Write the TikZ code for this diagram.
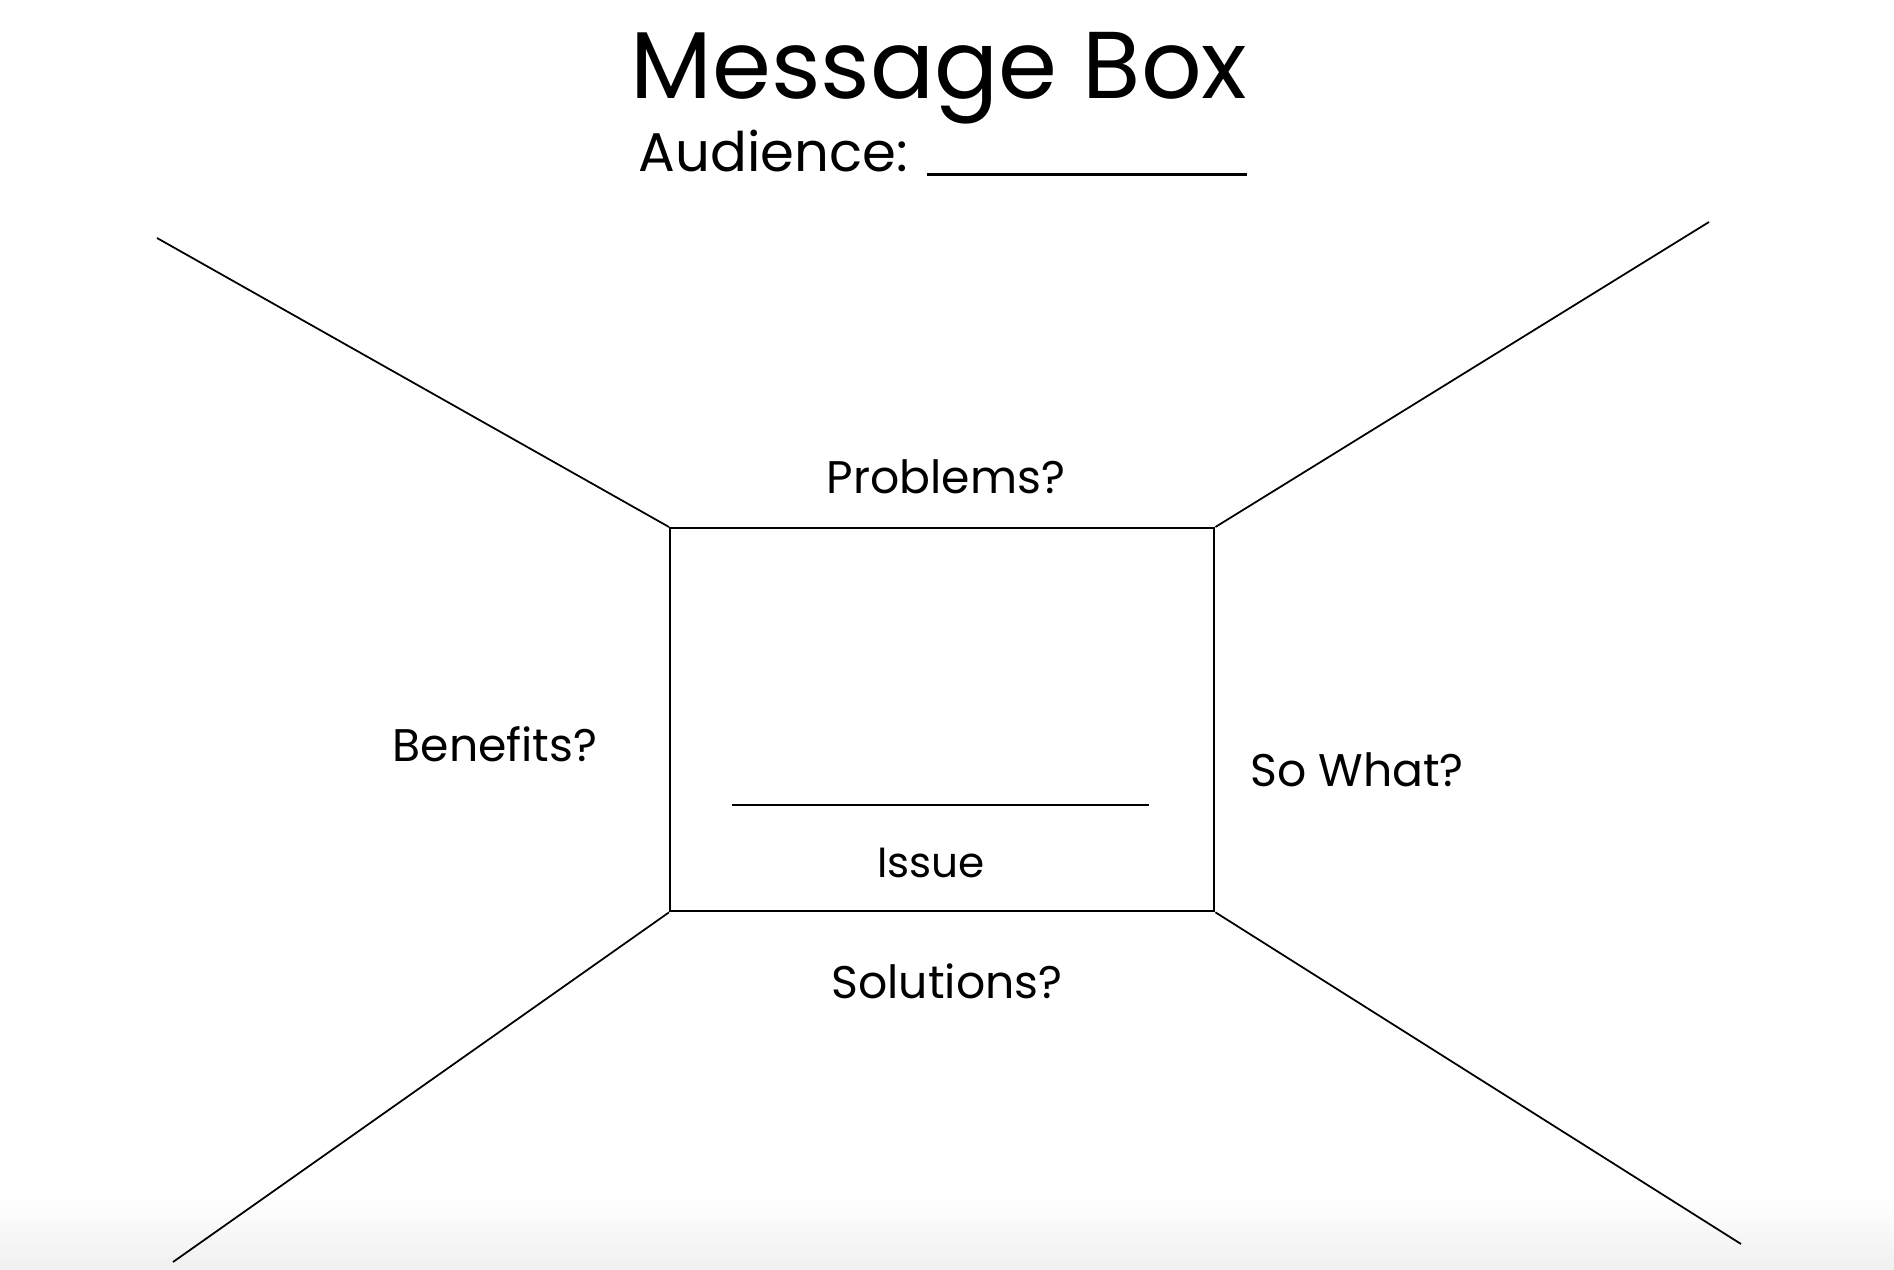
\documentclass[tikz,border=0pt]{standalone}
\usepackage{fontspec}
\setmainfont{Poppins}
\usetikzlibrary{positioning}
\tikzset{
    rim/.style={line width=0.5pt, black},
    cue/.style={font=\fontsize{13}{16}\selectfont, anchor=base, inner sep=0pt},
}

\begin{document}
\begin{tikzpicture}[x=0.01cm, y=-0.01cm]
 \useasboundingbox (0,0) rectangle (1894,1270);
 \shade[top color=white, bottom color=black!6] (0,1195) rectangle (1894,1270);
 \node[font=\fontsize{27}{32}\selectfont, anchor=base, inner sep=0pt] (title) at (939,99) {Message Box};
 \node[font=\fontsize{15.5}{19}\selectfont, anchor=base west, inner sep=0pt] (aud) at (638,172)
    {Audience: \rule[-1pt]{3.2cm}{0.8pt}};
 \node[rectangle, draw, rim, line width=0.6pt, minimum width=5.44cm,
    minimum height=3.83cm, anchor=north west] (issuebox) at (669,527) {};
 \coordinate (tl) at (157,238);
 \coordinate (tr) at (1709,222);
 \coordinate (bl) at (173,1262);
 \coordinate (br) at (1741,1244);
 \draw[rim] (issuebox.north west) -- (tl);
 \draw[rim] (issuebox.north east) -- (tr);
 \draw[rim] (issuebox.south west) -- (bl);
 \draw[rim] (issuebox.south east) -- (br);
 \coordinate (blank1) at (732,805);
 \coordinate (blank2) at (1149,805);
 \draw[rim] (blank1) -- (blank2);
 \node[cue, font=\fontsize{12}{15}\selectfont] (issue) at (931,877) {Issue};
 \node[cue] (problems) at (946,494) {Problems?};
 \node[cue] (benefits) at (495,761) {Benefits?};
 \node[cue] (sowhat) at (1357,786) {So What?};
 \node[cue] (solutions) at (947,998) {Solutions?};
\end{tikzpicture}
\end{document}
